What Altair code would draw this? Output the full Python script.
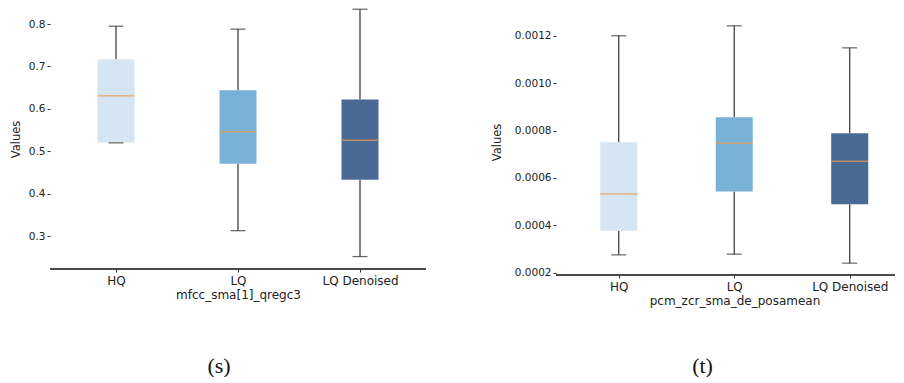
import altair as alt
import pandas as pd

categories = ["HQ", "LQ", "LQ Denoised"]
box_colors = ["#d6e5f3", "#7ab1d6", "#4a6a96"]

# Panel (s): mfcc_sma[1]_qregc3
s_low = [0.520, 0.313, 0.252]
s_q1 = [0.521, 0.471, 0.433]
s_med = [0.631, 0.546, 0.526]
s_q3 = [0.717, 0.644, 0.622]
s_high = [0.795, 0.788, 0.835]

# Panel (t): pcm_zcr_sma_de_posamean
t_low = [0.000275, 0.000278, 0.000240]
t_q1 = [0.000377, 0.000542, 0.000489]
t_med = [0.000532, 0.000746, 0.000670]
t_q3 = [0.000750, 0.000856, 0.000788]
t_high = [0.001200, 0.001242, 0.001149]

FONT = "DejaVu Sans"
LABEL_EXPR = "['HQ', 'LQ', 'LQ Denoised'][floor(datum.value)]"


def panel(low, q1, med, q3, high, xtitle, domain, ticks, fmt, width, xmax, height,
          caption, cap_dx, cap_offset, label_w, ytitle_pad, xtitle_x):
    df = pd.DataFrame({"cat": categories, "pos": [i + 0.5 for i in range(len(categories))],
                       "low": low, "q1": q1, "med": med, "q3": q3, "high": high})
    x = alt.X("pos:Q", title=xtitle,
              scale=alt.Scale(domain=[0, xmax], nice=False, zero=False),
              axis=alt.Axis(values=[0.5, 1.5, 2.5], labelExpr=LABEL_EXPR,
                            labelAngle=0, labelFont=FONT, labelFontSize=12, labelColor="#222",
                            titleFont=FONT, titleFontSize=12, titleFontWeight="normal",
                            titleColor="#222", domain=False, grid=False, tickColor="#333",
                            tickSize=3, labelPadding=3, titlePadding=3,
                            titleX=xtitle_x, titleAlign="center"))
    yscale = alt.Scale(domain=domain, nice=False, zero=False)
    yaxis = alt.Axis(values=ticks, format=fmt, grid=False, domain=False, tickSize=3,
                     tickColor="#333", labelFont=FONT, labelFontSize=10.5, labelColor="#222",
                     titleFont=FONT, titleFontSize=11.5, titleFontWeight="normal",
                     titleColor="#222", labelPadding=2, titlePadding=ytitle_pad,
                     minExtent=label_w, maxExtent=label_w)
    base = alt.Chart(df).encode(x=x)
    lower = base.mark_rule(color="#333", strokeWidth=1.2).encode(
        y=alt.Y("low:Q", scale=yscale, axis=yaxis, title="Values"), y2="q1:Q")
    upper = base.mark_rule(color="#333", strokeWidth=1.2).encode(
        y=alt.Y("q3:Q"), y2="high:Q")
    box = base.mark_bar(size=37).encode(
        y=alt.Y("q1:Q"), y2="q3:Q",
        color=alt.Color("cat:N", scale=alt.Scale(domain=categories, range=box_colors),
                        legend=None))
    medl = base.mark_tick(color="#f29a4c", size=37, thickness=1.5, orient="horizontal").encode(
        y=alt.Y("med:Q"))
    capl = base.mark_tick(color="#222", size=15, thickness=1.2, orient="horizontal").encode(
        y=alt.Y("low:Q"))
    caph = base.mark_tick(color="#222", size=15, thickness=1.2, orient="horizontal").encode(
        y=alt.Y("high:Q"))
    baseline = alt.Chart(df).mark_rule(color="#333", strokeWidth=1.2).encode(
        x=alt.value(0), x2=alt.value(width), y=alt.value(height))
    return alt.layer(lower, upper, box, medl, capl, caph, baseline).properties(
        width=width, height=height,
        title=alt.TitleParams(caption, orient="bottom", font="Liberation Serif",
                              fontSize=22, fontWeight="normal", color="#111",
                              offset=cap_offset, dx=cap_dx),
    )


left = panel(s_low, s_q1, s_med, s_q3, s_high, "mfcc_sma[1]_qregc3",
             [0.2227, 0.8355], [0.3, 0.4, 0.5, 0.6, 0.7, 0.8], ".1f",
             376, 3.0, 260, "(s)", -19, 56, 24, 5, 188)
right = panel(t_low, t_q1, t_med, t_q3, t_high, "pcm_zcr_sma_de_posamean",
              [0.00019, 0.001313], [0.0002, 0.0004, 0.0006, 0.0008, 0.0010, 0.0012], ".4f",
              339, 3.0 * 339 / 357, 266, "(t)", -23, 50, 41, 13, 178.5)

chart = alt.hconcat(left, right, spacing=64).properties(
    padding={"left": 2, "right": 0, "top": 0, "bottom": 0},
    background="white",
).configure_view(strokeWidth=0)

chart.save("out.html", embed_options={"renderer": "svg", "actions": False})
